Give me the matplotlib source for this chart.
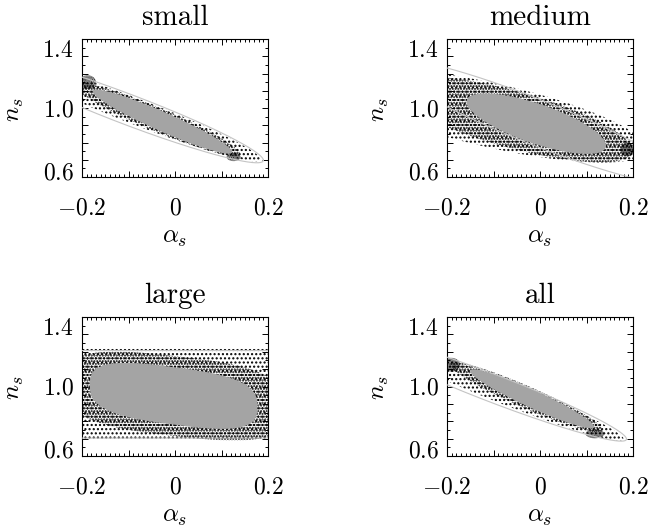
import numpy as np
import matplotlib
matplotlib.use('Agg')
import matplotlib.pyplot as plt
from matplotlib.patches import Polygon
from matplotlib.ticker import MultipleLocator
from matplotlib.transforms import ScaledTranslation

plt.rcParams['mathtext.fontset'] = 'cm'
plt.rcParams['hatch.linewidth'] = 1.0

# ---------------- data ----------------
panel_titles = ['small', 'medium', 'large', 'all']
x_label = r'$\alpha_s$'
y_label = r'$n_s$'
x_range = [-0.2, 0.2]
y_range = [0.6, 1.4]
x_ticks = [-0.2, -0.1, 0.0, 0.1, 0.2]
x_tick_labels = [r'$-0.2$', '', r'$0$', '', r'$0.2$']
y_ticks = [0.6, 0.7, 0.8, 0.9, 1.0, 1.1, 1.2, 1.3, 1.4]
y_tick_labels = [r'$0.6$', '', '', '', r'$1.0$', '', '', '', r'$1.4$']

# regions: (centre alpha, centre n, half alpha-extent, slope of axis, half n-thickness, squareness)
core_region = [(-0.027, 0.921, 0.150, -1.17, 0.060, 2),
               (-0.008, 0.909, 0.150, -0.85, 0.120, 2),
               (-0.003, 0.946, 0.180, -0.35, 0.165, 3),
               (-0.017, 0.929, 0.133, -1.20, 0.055, 2)]
contour_region = [(-0.100, 0.990, 0.290, -1.01, 0.094, 2),
                  (-0.010, 0.920, 0.320, -1.05, 0.140, 2),
                  (0.000, 0.955, 0.600, 0.00, 0.252, 10),
                  (-0.100, 0.988, 0.286, -1.015, 0.085, 2)]
sparse_dots_region = [(-0.080, 0.975, 0.265, -1.03, 0.080, 2),
                      (-0.100, 0.955, 0.330, -0.585, 0.190, 2),
                      (0.000, 0.955, 0.600, 0.00, 0.262, 10),
                      (-0.080, 0.970, 0.260, -1.05, 0.072, 2)]
dense_dots_region = [(-0.040, 0.935, 0.180, -1.12, 0.072, 2),
                     (-0.060, 0.935, 0.260, -0.70, 0.170, 2),
                     (0.000, 0.945, 0.240, -0.30, 0.230, 3),
                     (-0.030, 0.940, 0.165, -1.15, 0.068, 2)]
# dense clumps of samples: (centre alpha, centre n, half alpha-width, half n-height)
clumps = [[(-0.188, 1.150, 0.018, 0.040), (0.126, 0.716, 0.015, 0.024)],
          [(0.188, 0.760, 0.015, 0.040)],
          [],
          [(-0.190, 1.125, 0.018, 0.040), (0.118, 0.728, 0.020, 0.026)]]

# ---------------- layout ----------------
W, H = 651, 527
axes_px = [(82, 39, 186, 138), (447, 39, 186, 138),
           (82, 317, 186, 139), (447, 317, 186, 139)]
# vertical nudge of the labelled y ticks, display pixels (positive = up)
ylabel_nudge_px = {r'$1.4$': -11, r'$1.0$': -1, r'$0.6$': 5}

core_color = '#a4a4a4'
contour_color = '#c4c4c4'


def outline(cx, cy, sx, slope, hh, p, n=600):
    t = np.linspace(0, 2 * np.pi, n)
    c, s = np.cos(t), np.sin(t)
    u = np.sign(c) * np.abs(c) ** (2.0 / p)
    v = np.sign(s) * np.abs(s) ** (2.0 / p)
    return np.column_stack([cx + sx * u, cy + slope * sx * u + hh * v])


fig = plt.figure(figsize=(W / 100, H / 100), dpi=100)
for i, title in enumerate(panel_titles):
    l, t, w, h = axes_px[i]
    ax = fig.add_axes([l / W, 1 - (t + h) / H, w / W, h / H])
    ax.set_xlim(x_range)
    ax.set_ylim(y_range)

    ax.add_patch(Polygon(outline(*sparse_dots_region[i]), closed=True,
                         facecolor='none', edgecolor='black', lw=0,
                         hatch='....', zorder=1))
    ax.add_patch(Polygon(outline(*dense_dots_region[i]), closed=True,
                         facecolor='none', edgecolor='black', lw=0,
                         hatch='......', zorder=2))
    for (ccx, ccy, crx, cry) in clumps[i]:
        ax.add_patch(Polygon(outline(ccx, ccy, crx, 0.0, cry, 2), closed=True,
                             facecolor='none', edgecolor='black', lw=0,
                             hatch='.........', zorder=3))
    ax.add_patch(Polygon(outline(*core_region[i]), closed=True,
                         facecolor=core_color, edgecolor='none', zorder=4))
    cont = outline(*contour_region[i])
    ax.plot(cont[:, 0], cont[:, 1], color=contour_color, lw=0.8, zorder=5)

    ax.set_xticks(x_ticks, x_tick_labels)
    ax.set_yticks(y_ticks, y_tick_labels)
    ax.xaxis.set_minor_locator(MultipleLocator(0.01))
    ax.yaxis.set_minor_locator(MultipleLocator(0.05))
    ax.tick_params(which='both', direction='in', top=True, right=True,
                   width=0.7, labelsize=17)
    ax.tick_params(which='major', length=4)
    ax.tick_params(which='minor', length=2)
    ax.tick_params(axis='x', which='major', pad=13)
    ax.tick_params(axis='y', which='major', pad=6)
    for lab, txt in zip(ax.get_yticklabels(), y_tick_labels):
        if txt in ylabel_nudge_px:
            lab.set_verticalalignment('center')
            lab.set_transform(lab.get_transform() + ScaledTranslation(
                0, ylabel_nudge_px[txt] / 100.0, fig.dpi_scale_trans))
    for sp in ax.spines.values():
        sp.set_linewidth(0.8)

    ax.set_title(title, fontsize=21, family='cmr10', pad=10)
    ax.set_xlabel(x_label, fontsize=18)
    ax.set_ylabel(y_label, fontsize=18)
    ax.xaxis.set_label_coords(0.5, -0.345)
    ax.yaxis.set_label_coords(-0.30, 0.49)

fig.savefig('out.png', dpi=100)
